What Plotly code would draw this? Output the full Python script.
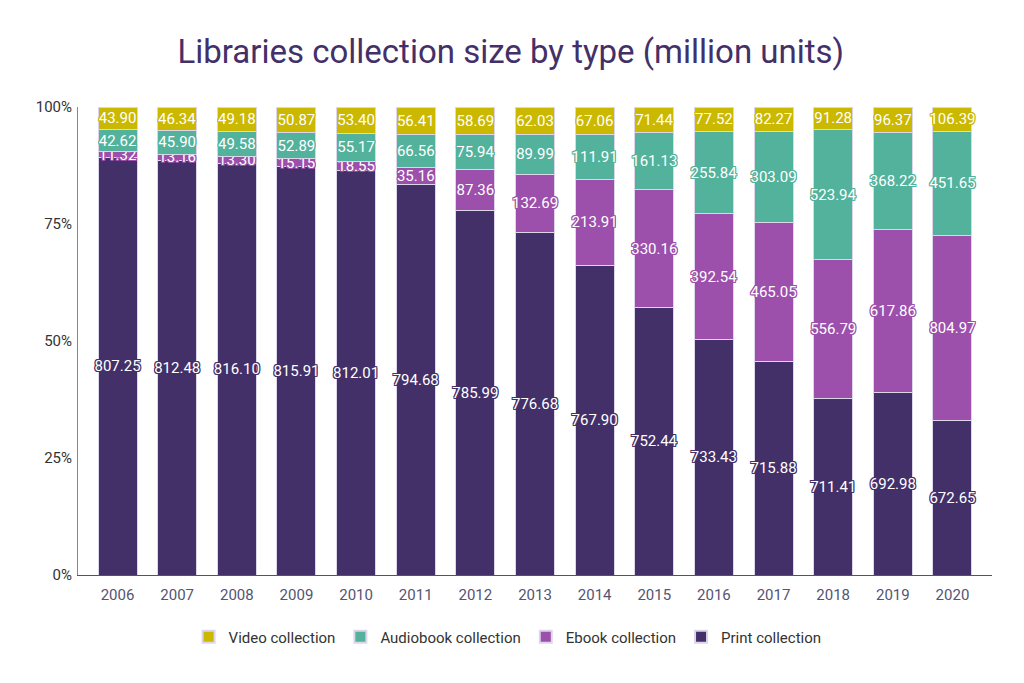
import plotly.graph_objects as go

years = ["2006", "2007", "2008", "2009", "2010", "2011", "2012", "2013",
         "2014", "2015", "2016", "2017", "2018", "2019", "2020"]
print_collection = [807.25, 812.48, 816.10, 815.91, 812.01, 794.68, 785.99, 776.68,
                    767.90, 752.44, 733.43, 715.88, 711.41, 692.98, 672.65]
ebook_collection = [11.32, 13.16, 13.30, 15.15, 18.55, 35.16, 87.36, 132.69,
                    213.91, 330.16, 392.54, 465.05, 556.79, 617.86, 804.97]
audiobook_collection = [42.62, 45.90, 49.58, 52.89, 55.17, 66.56, 75.94, 89.99,
                        111.91, 161.13, 255.84, 303.09, 523.94, 368.22, 451.65]
video_collection = [43.90, 46.34, 49.18, 50.87, 53.40, 56.41, 58.69, 62.03,
                    67.06, 71.44, 77.52, 82.27, 91.28, 96.37, 106.39]
y_tick_vals = [0, 25, 50, 75, 100]
y_tick_text = ["0%", "25%", "50%", "75%", "100%"]

series = [
    ("Print collection", print_collection, "#433069"),
    ("Ebook collection", ebook_collection, "#9c4fab"),
    ("Audiobook collection", audiobook_collection, "#52b29b"),
    ("Video collection", video_collection, "#cbb800"),
]


def outline(c):
    offs = [(-1, -1), (1, -1), (-1, 1), (1, 1), (0, 1), (0, -1), (1, 0), (-1, 0)]
    return ", ".join(f"{x}px {y}px 0 {c}" for x, y in offs)


fig = go.Figure()
for name, vals, col in series:
    fig.add_trace(go.Bar(
        x=years, y=vals, name=name,
        marker=dict(color=col, line=dict(color="#ddd6ea", width=1)),
        text=vals, texttemplate="%{text:.2f}",
        textposition="inside", insidetextanchor="middle",
        textangle=0,
        textfont=dict(color="white", size=15, family="Roboto", shadow=outline(col)),
        hoverinfo="skip",
    ))

fig.update_layout(
    barmode="stack", barnorm="percent", bargap=0.345,
    width=1024, height=683,
    paper_bgcolor="white", plot_bgcolor="white",
    font=dict(family="Roboto", size=15, color="#333333"),
    title=dict(text="Libraries collection size by type (million units)",
               x=0.491, xanchor="center", y=0.936, yanchor="middle",
               font=dict(size=33, color="#433069", family="Roboto")),
    margin=dict(l=70, r=40, t=99, b=116),
    uniformtext=dict(minsize=15, mode="show"),
    legend=dict(orientation="h", x=0.47, xanchor="center", y=-0.1325, yanchor="middle",
                traceorder="reversed", font=dict(size=15, color="#333333"),
                itemsizing="constant"),
    showlegend=True,
)
fig.update_xaxes(type="category", range=[-0.663, 14.663],
                 showline=True, linecolor="#555555", linewidth=1,
                 tickfont=dict(size=15, color="#545474"), ticks="",
                 ticklabelstandoff=6, showgrid=False)
fig.update_yaxes(range=[0, 100], tickmode="array", tickvals=y_tick_vals, ticktext=y_tick_text,
                 showline=True, linecolor="#888888", linewidth=1, ticklabelstandoff=2,
                 showgrid=False, zeroline=False, tickfont=dict(size=15, color="#333333"))

fig.write_html("out.html")
